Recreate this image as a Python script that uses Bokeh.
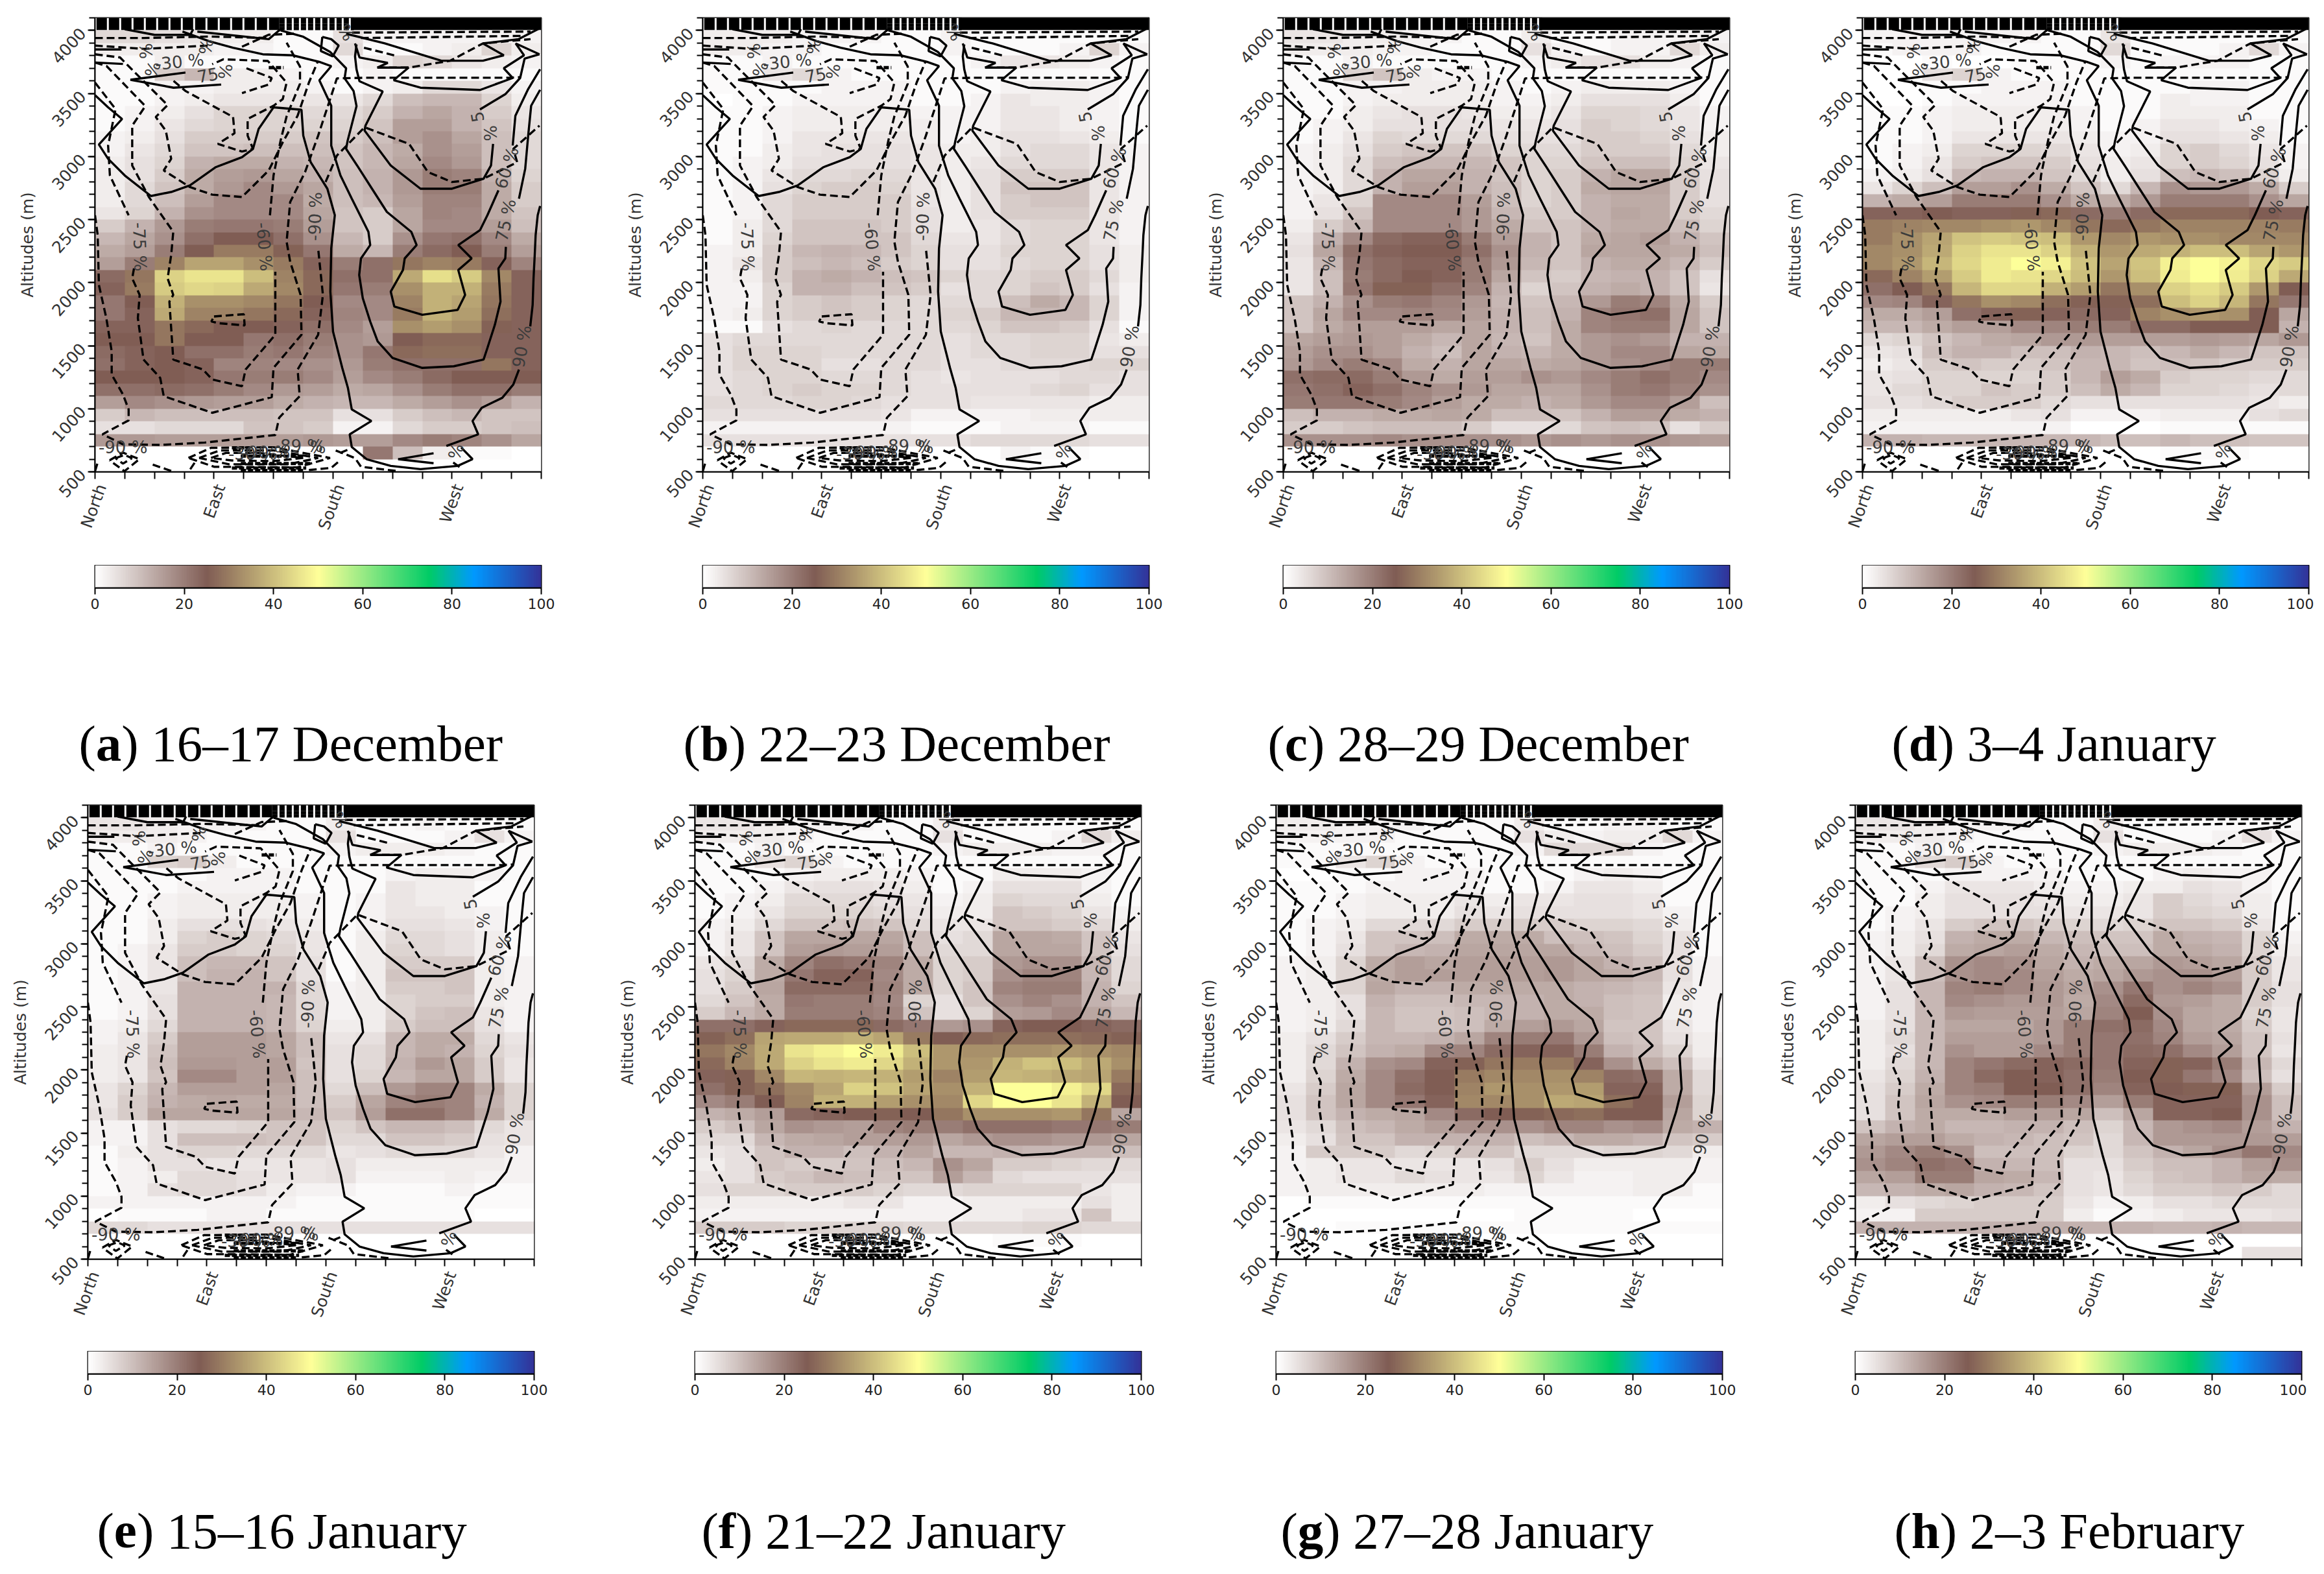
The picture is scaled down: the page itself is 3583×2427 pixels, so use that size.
import numpy as np
from bokeh.embed import file_html
from bokeh.resources import INLINE
from bokeh.plotting import figure
from bokeh.layouts import column, row
from bokeh.models import ColumnDataSource, FixedTicker, LinearAxis, LinearColorMapper, Range1d, SingleIntervalTicker
from bokeh.core.properties import value

DIRECTIONS = {0: "North", 4: "East", 8: "South", 12: "West"}
ONE = [1] * 15
ZERO = [0] * 15

# cloud frequency (%) per row, from 4000-4100 m down to 500-600 m, 15 azimuth columns
PANEL_A = [ONE,
 [6,6,5,4,3,3,1,1,5,2,2,2,2,2,2],[3,3,3,3,2,2,1,1,6,1,1,2,3,7,3],[1,1,3,1,1,1,1,1,2,3,7,6,4,3,2],
 [1,1,8,11,3,3,2,1,1,2,1,1,1,1,1],[1,1,2,2,3,3,3,2,1,2,3,6,6,4,2],[1,1,2,3,4,4,4,4,4,6,10,11,11,7,3],
 [1,2,3,5,7,7,7,6,6,8,12,14,12,8,4],[1,2,4,6,7,7,7,7,7,9,15,15,12,9,5],[2,3,5,8,8,8,8,9,8,10,15,17,14,10,6],
 [2,4,6,9,9,10,10,10,9,11,13,17,15,10,6],[3,5,7,12,13,13,12,11,9,11,14,18,16,10,6],[3,5,8,13,15,16,14,12,10,12,16,20,19,12,7],
 [3,6,9,13,16,18,16,14,10,12,16,20,20,13,8],[3,6,10,15,18,18,18,13,10,11,15,19,19,13,8],[4,7,12,17,18,18,18,14,9,8,14,19,18,13,9],
 [8,12,16,20,21,21,20,15,9,8,14,18,18,15,10],[11,14,17,22,25,25,22,17,11,8,17,21,22,18,13],[13,15,20,25,30,30,26,21,13,11,20,23,25,20,15],
 [15,20,31,36,36,33,30,24,20,22,29,31,30,24,19],[23,29,43,46,46,40,31,27,22,22,37,45,42,32,24],[24,30,42,44,43,37,32,27,21,20,33,38,38,30,24],
 [21,25,38,33,33,32,29,25,18,18,31,38,36,29,24],[21,24,37,31,31,29,27,24,19,18,30,38,35,28,24],[24,24,29,27,25,25,24,22,18,15,33,35,33,26,24],
 [25,25,29,25,25,21,22,20,17,16,25,27,27,24,24],[23,24,25,22,22,20,21,19,17,21,27,28,28,24,24],[22,24,25,24,19,19,18,17,16,20,22,22,22,29,24],
 [25,25,25,24,21,20,20,18,15,18,20,23,25,25,25],[22,22,23,22,20,18,16,15,13,14,17,20,22,22,20],[15,18,17,16,15,15,13,12,11,11,13,15,17,15,12],
 [8,11,10,10,10,10,9,9,5,5,8,10,11,9,9],[5,5,6,6,6,9,9,8,2,2,6,8,8,9,10],[16,16,15,15,15,15,15,16,15,15,18,20,19,17,14],
 [0,0,0,0,0,0,0,0,0,21,10,3,1,1,0],ZERO]

PANEL_B = [ONE,
 [3,3,3,2,2,2,1,1,2,1,1,1,1,1,1],[3,3,2,2,1,1,1,1,2,1,1,1,2,7,2],[1,1,2,1,1,1,1,1,1,2,4,4,3,2,1],
 [1,1,4,6,2,1,1,1,1,1,1,1,1,1,1],[1,1,1,1,2,2,2,1,1,1,2,3,3,2,1],[0,1,1,2,2,2,2,1,1,2,4,3,3,2,1],
 [1,1,2,3,3,3,3,2,2,2,4,4,3,2,1],[1,1,2,3,3,3,3,3,2,2,4,4,3,2,1],[1,1,2,4,4,4,4,3,2,3,5,5,4,3,1],
 [1,1,3,4,5,5,5,4,3,3,5,6,6,4,2],[1,2,3,5,5,5,5,4,3,4,6,6,6,4,2],[1,2,4,6,6,7,6,4,3,5,8,8,8,4,2],
 [1,2,5,7,8,8,7,4,3,5,9,9,9,4,2],[1,2,6,8,8,8,8,4,3,5,8,9,9,4,2],[1,2,6,8,8,8,8,5,3,5,8,8,8,4,2],
 [1,3,6,9,9,9,8,5,3,4,6,7,7,4,2],[1,3,7,9,9,9,9,6,4,4,6,7,7,4,2],[2,3,8,11,12,11,9,7,5,5,7,7,7,5,3],
 [2,4,8,10,11,10,8,7,5,5,6,7,7,5,3],[2,3,8,12,13,12,10,9,7,6,7,8,8,6,3],[2,2,7,12,12,10,9,8,5,6,7,9,8,5,2],
 [2,2,7,8,9,8,7,6,6,6,10,13,11,7,2],[2,3,7,8,9,8,7,6,7,8,11,11,11,7,2],[1,1,5,6,7,6,6,6,6,7,9,9,8,5,1],
 [5,6,6,6,6,6,6,6,5,6,6,7,7,4,3],[5,7,7,7,6,6,6,6,5,6,6,7,7,5,5],[5,7,7,7,5,5,6,6,5,5,6,6,6,7,7],
 [5,6,7,7,6,6,6,5,4,5,5,5,6,6,5],[5,6,7,8,7,7,6,5,5,5,5,6,7,5,5],[6,6,6,7,7,6,5,5,5,4,4,4,4,3,3],
 [5,5,5,5,5,5,4,2,2,2,2,3,3,3,3],[2,2,2,2,2,2,2,1,1,1,2,2,2,1,1],[5,5,5,5,5,5,5,5,5,6,6,6,6,5,5],
 [0,0,0,0,0,0,0,0,0,0,2,1,1,0,0],ZERO]

PANEL_C = [ONE,
 [4,4,3,3,2,2,1,1,3,1,1,2,2,2,2],[3,3,3,2,2,1,1,1,5,2,1,2,2,6,3],[1,1,2,1,1,1,1,1,2,3,5,5,3,2,1],
 [1,1,7,9,3,2,2,1,1,1,1,1,1,1,1],[1,1,2,2,3,3,3,2,1,2,3,3,3,2,1],[1,1,2,3,3,3,3,2,2,3,5,5,5,3,1],
 [1,1,3,4,5,5,4,3,3,4,7,7,6,4,2],[1,2,3,5,5,5,5,4,4,5,8,7,6,4,2],[1,2,4,7,6,6,6,5,5,5,8,8,7,5,3],
 [2,3,5,8,9,9,9,7,6,6,8,8,8,6,3],[2,3,6,10,11,11,11,9,7,7,9,10,10,7,4],[2,3,6,12,14,14,12,9,7,8,12,14,14,8,5],
 [2,3,6,12,15,15,12,10,7,8,13,14,14,8,5],[2,4,7,18,18,18,15,10,7,8,12,13,13,8,5],[2,5,9,18,18,18,16,11,8,8,12,14,13,8,6],
 [3,8,11,18,18,18,16,13,9,9,12,13,13,10,7],[4,12,18,23,24,24,20,15,12,9,13,14,15,12,9],[5,14,22,24,25,25,22,17,12,9,14,14,14,13,10],
 [4,11,21,23,24,24,20,16,11,9,12,13,13,11,8],[4,10,20,23,25,24,20,14,9,8,11,12,12,9,5],[4,10,21,26,26,22,19,12,7,9,12,13,12,9,4],
 [9,12,17,20,21,19,16,11,9,11,16,20,19,13,8],[9,14,18,18,19,18,15,12,10,12,19,21,22,14,9],[9,13,15,15,15,14,14,12,10,13,19,20,20,14,9],
 [14,15,16,15,13,11,14,11,9,13,16,17,16,12,12],[15,17,17,15,12,10,14,12,11,13,16,18,18,14,13],[16,18,20,18,13,12,14,14,13,14,16,17,18,20,20],
 [22,23,23,20,16,13,15,15,17,16,18,20,22,20,18],[21,22,24,22,19,17,16,14,14,14,17,20,21,19,17],[20,21,21,20,18,15,13,13,12,13,16,18,18,15,10],
 [10,12,12,13,13,14,13,10,10,9,12,15,15,13,12],[8,8,9,10,10,10,8,5,5,6,9,10,9,5,8],[17,17,17,18,17,17,17,17,16,17,16,17,17,16,15],
 ZERO,ZERO]

PANEL_D = [ONE,
 [2,2,2,2,2,2,1,1,4,1,1,1,1,1,1],[1,2,2,2,1,1,1,1,6,1,1,1,2,6,2],[0,0,1,0,0,1,1,1,2,1,2,2,2,1,1],
 [0,0,5,7,2,1,1,1,1,1,1,1,1,1,1],[0,0,1,1,2,2,2,1,1,1,1,2,2,1,1],[0,0,1,2,2,2,2,1,1,1,3,2,2,1,1],
 [1,1,2,3,3,3,3,2,1,1,3,3,3,1,1],[1,1,2,3,3,3,3,2,1,2,4,4,3,2,1],[1,1,2,4,4,4,4,3,2,2,5,5,4,3,1],
 [1,2,3,7,7,7,6,4,2,3,7,8,6,4,2],[1,2,4,8,9,9,8,5,3,4,7,8,7,5,2],[2,3,5,11,12,12,9,6,3,5,10,11,10,7,3],
 [4,7,10,15,15,17,13,9,6,11,17,16,16,13,8],[12,13,15,20,20,20,17,13,13,16,20,20,20,17,14],[24,24,25,24,24,26,27,23,20,23,27,27,27,25,24],
 [30,31,32,32,33,34,32,29,27,29,31,31,31,31,30],[30,33,36,41,42,41,40,34,32,34,33,33,32,32,32],[32,33,37,43,46,46,43,38,34,37,38,40,40,36,34],
 [32,34,39,44,47,50,48,41,36,41,48,50,48,44,42],[27,31,35,42,47,46,44,40,34,40,47,50,47,43,37],[22,25,29,39,44,44,38,35,29,33,43,45,42,34,25],
 [18,19,24,29,33,32,28,26,26,28,40,43,39,29,21],[13,13,15,22,24,26,24,23,24,31,33,34,33,25,14],[11,11,13,15,15,18,19,20,20,23,23,25,25,25,12],
 [6,7,9,11,13,14,16,16,15,15,15,16,15,14,16],[4,5,10,12,12,10,10,12,11,10,11,13,11,9,9],[3,4,8,9,8,8,9,11,11,9,10,9,8,8,8],
 [4,5,7,7,7,7,8,11,15,13,8,7,7,6,6],[4,6,7,7,9,8,8,10,13,11,7,7,6,5,6],[5,5,6,8,8,8,6,5,5,5,5,5,5,4,3],
 [3,3,3,3,3,4,5,2,2,2,3,3,3,5,6],[2,2,2,2,2,2,2,0,0,0,1,1,1,1,1],[12,12,11,11,11,11,11,11,10,10,11,10,10,9,9],
 [0,0,0,0,0,0,0,0,0,0,1,1,1,0,0],ZERO]

PANEL_E = [ONE,
 [4,4,3,2,2,2,1,1,3,1,1,2,1,1,1],[3,3,3,2,1,1,1,1,5,1,1,1,2,5,2],[1,1,2,1,1,1,1,1,2,3,3,3,2,1,1],
 [1,1,7,8,3,1,1,1,1,1,1,1,1,1,1],[1,1,1,1,2,2,2,1,1,1,2,3,3,2,1],[1,1,1,2,2,2,2,1,1,1,4,3,3,1,1],
 [1,1,2,3,3,3,3,2,1,2,4,3,3,1,1],[1,1,2,3,3,3,3,2,1,2,4,4,3,2,1],[1,1,3,5,5,5,4,3,1,2,5,5,4,2,1],
 [1,1,3,7,8,7,6,4,1,3,6,6,5,3,1],[1,2,4,8,8,7,7,4,1,3,7,6,5,3,1],[1,2,4,10,11,11,9,5,1,3,8,8,8,3,2],
 [1,2,4,10,12,12,9,5,1,3,9,9,9,3,2],[1,2,4,12,12,12,12,6,2,3,8,8,9,3,2],[1,2,5,12,12,12,11,6,2,3,7,8,8,3,2],
 [1,2,5,12,12,12,11,6,2,3,7,9,10,4,2],[2,3,6,12,12,12,11,7,3,3,8,10,10,5,2],[2,4,8,15,15,15,14,10,4,5,11,13,13,6,4],
 [3,4,9,15,15,15,14,10,5,6,11,13,12,7,5],[3,4,10,16,16,15,15,9,5,6,12,16,14,8,4],[3,4,9,18,18,15,15,10,5,7,11,14,14,8,4],
 [4,7,11,15,15,15,14,10,6,10,16,19,19,13,7],[4,8,12,13,14,13,13,10,8,14,19,20,19,12,7],[5,8,14,14,14,14,14,11,9,15,22,22,19,13,7],
 [2,2,5,6,6,7,9,9,7,9,11,11,10,6,4],[2,2,5,10,10,10,9,9,6,6,9,9,8,5,4],[1,3,5,7,7,6,6,6,4,5,6,6,6,4,2],
 [1,2,5,5,4,4,4,4,5,3,3,3,3,3,2],[1,2,3,6,6,5,4,4,5,2,2,2,3,2,2],[1,2,5,6,6,5,3,2,2,1,1,1,2,1,1],
 [2,2,2,2,2,2,2,1,1,1,1,1,1,1,1],[0,1,1,1,2,2,1,1,1,1,1,1,1,0,0],[6,6,5,5,5,5,5,5,5,5,5,5,5,5,5],
 ZERO,ZERO]

PANEL_F = [ONE,
 [4,4,3,2,2,2,1,1,3,1,1,1,1,1,1],[3,3,3,2,1,1,1,1,5,1,1,1,2,6,3],[1,1,2,1,1,1,1,1,2,3,3,3,2,2,1],
 [1,1,5,7,2,1,1,1,1,1,1,1,1,1,1],[1,1,1,2,3,3,3,2,1,1,3,3,3,2,1],[1,1,2,4,5,5,4,3,1,2,5,5,5,2,1],
 [1,2,3,6,6,6,5,4,2,3,7,6,6,3,1],[1,2,4,7,7,7,6,5,3,3,9,8,7,4,2],[2,3,6,9,9,10,9,6,4,4,9,9,8,6,3],
 [2,4,9,14,14,14,14,10,5,6,14,14,13,9,4],[2,4,9,15,16,15,15,10,6,6,14,14,14,9,5],[4,6,13,19,22,21,19,13,7,8,16,17,17,11,6],
 [5,7,13,21,24,24,18,13,7,8,17,19,19,11,6],[5,8,14,23,23,23,19,13,7,9,19,20,20,12,7],[6,9,13,21,20,20,18,7,5,9,17,19,17,12,9],
 [8,11,13,20,20,20,19,9,5,7,15,16,18,14,11],[22,22,24,27,27,27,23,21,16,17,24,25,25,24,23],[26,28,36,37,37,38,36,30,25,27,28,28,28,27,26],
 [29,32,37,46,48,50,47,40,34,33,33,33,34,33,32],[27,31,37,43,46,47,44,38,34,34,38,41,40,37,33],[24,26,32,39,38,39,38,35,31,35,39,38,37,36,30],
 [22,26,28,32,36,43,41,36,33,38,50,50,48,44,27],[18,20,25,31,38,38,35,33,32,44,50,50,46,38,25],[12,13,15,23,24,25,26,25,29,33,33,33,34,29,14],
 [8,10,14,17,16,15,19,20,20,22,22,22,21,21,20],[6,6,11,13,14,15,15,16,14,16,17,17,16,16,14],[4,5,9,12,12,10,12,14,11,11,12,11,11,11,10],
 [3,5,9,8,8,9,10,11,17,14,8,8,7,6,6],[4,5,8,9,11,10,9,9,15,11,6,5,5,5,5],[5,7,7,8,8,8,7,6,6,7,7,7,7,4,3],
 [3,3,3,3,3,4,4,2,2,3,3,3,3,5,3],[2,2,2,2,2,2,2,2,2,3,3,4,4,9,3],[8,8,8,7,7,7,7,6,6,6,6,7,7,6,6],
 [0,0,0,0,0,0,0,0,0,0,1,1,1,0,0],ZERO]

PANEL_G = [ONE,
 [3,3,2,2,2,1,1,1,3,1,1,2,2,1,1],[2,2,2,2,1,1,1,1,5,3,2,3,3,6,2],[1,1,1,1,1,1,1,1,2,6,6,6,2,1,1],
 [1,1,4,7,2,1,1,1,1,1,1,1,1,1,1],[0,0,1,1,2,2,2,1,1,1,2,3,2,1,1],[1,1,1,2,2,2,2,1,1,2,4,4,3,1,1],
 [1,1,2,3,3,3,4,3,4,4,5,5,4,1,1],[1,1,2,3,3,3,5,4,5,5,5,5,4,2,1],[1,2,3,6,6,6,8,8,8,8,7,7,6,3,1],
 [1,2,4,9,9,10,13,13,13,10,10,9,7,5,1],[1,2,5,9,11,12,14,14,14,14,11,10,8,5,1],[2,3,7,13,15,14,15,15,15,16,14,12,10,5,2],
 [2,3,7,13,15,15,15,15,15,16,14,13,11,5,2],[2,3,7,14,12,12,13,13,13,13,12,11,10,4,2],[2,3,5,12,10,10,11,11,12,13,12,10,9,3,2],
 [2,3,5,11,9,9,10,11,12,13,13,10,9,3,2],[2,3,6,11,9,9,10,13,15,16,14,9,9,4,2],[3,5,8,11,11,12,14,19,20,21,16,10,9,5,3],
 [3,6,9,12,13,18,19,23,24,24,20,12,10,7,3],[3,6,12,17,18,24,26,29,30,30,24,17,13,10,4],[3,7,13,18,22,25,30,32,32,33,31,23,22,13,6],
 [4,8,14,18,23,25,31,34,33,34,35,24,24,13,6],[5,9,14,18,21,24,32,32,33,37,36,28,25,15,7],[5,9,12,13,14,18,23,25,26,27,28,25,25,14,7],
 [4,6,10,11,13,15,17,17,17,19,19,17,18,13,12],[3,5,9,9,12,12,12,12,10,11,13,13,12,9,8],[2,8,8,8,6,7,9,9,6,6,6,7,7,6,3],
 [2,3,4,4,4,4,4,5,8,5,3,3,3,3,2],[2,3,4,4,6,5,4,4,7,4,2,2,3,3,2],[2,3,3,3,3,3,3,2,2,2,2,2,3,3,1],
 [0,1,1,1,1,1,1,1,1,1,1,1,1,1,1],[0,0,0,0,0,0,0,0,1,1,1,1,0,0,0],[0,0,1,1,1,1,1,1,1,1,1,1,1,1,1],
 ZERO,ZERO]

PANEL_H = [ONE,
 [4,4,3,2,2,2,1,1,3,1,1,1,1,1,1],[3,3,3,2,1,1,1,1,5,1,1,1,2,5,2],[1,1,2,1,1,1,1,1,2,3,3,3,2,1,1],
 [1,1,6,8,2,1,1,1,1,1,1,1,1,1,1],[1,1,1,2,2,2,2,1,1,1,2,3,2,2,1],[1,1,2,4,4,4,3,2,2,3,3,5,4,2,1],
 [1,1,3,5,5,5,4,3,3,4,8,6,5,3,1],[1,2,3,5,5,5,5,4,4,4,8,7,6,3,1],[1,2,4,8,9,9,8,7,6,7,9,9,8,4,1],
 [2,3,5,12,13,13,11,10,9,9,13,12,11,7,2],[2,3,6,13,14,15,13,11,10,10,13,13,12,7,3],[2,4,10,17,18,17,14,12,13,14,16,15,14,8,4],
 [2,4,10,17,18,18,15,13,14,16,17,17,15,8,4],[2,5,11,19,20,18,16,14,17,21,17,19,17,8,5],[2,5,11,18,17,16,16,13,18,23,16,15,13,8,5],
 [2,5,11,16,15,15,15,14,19,25,17,14,13,7,4],[3,5,11,14,14,14,16,20,22,23,18,14,13,8,4],[3,6,11,15,15,15,16,20,21,22,19,15,14,9,5],
 [3,5,11,17,15,15,18,20,21,23,22,18,15,9,4],[3,6,11,19,21,23,24,23,21,24,26,24,20,11,6],[4,7,12,19,23,25,24,22,20,25,26,21,18,10,5],
 [5,8,13,19,20,25,25,22,19,24,25,26,26,15,8],[5,9,14,17,18,20,20,18,15,20,24,24,24,17,10],[5,9,13,13,13,15,15,14,10,14,24,24,25,17,10],
 [9,12,13,11,11,12,12,10,7,11,16,17,18,15,12],[14,15,15,13,12,11,10,9,6,11,16,16,16,16,15],[16,18,20,17,10,10,10,7,6,9,12,14,17,21,18],
 [17,19,22,21,12,11,10,5,5,8,10,10,12,15,17],[14,15,20,20,14,13,11,5,4,7,9,10,12,14,13],[11,12,13,14,12,11,9,5,4,6,8,8,9,8,6],
 [3,5,6,7,8,8,8,4,2,3,5,5,6,6,6],[2,2,8,8,8,8,8,3,1,2,3,4,4,4,5],[12,12,12,12,12,12,12,12,12,12,11,11,12,11,11],
 ZERO,[0,0,0,0,0,0,0,0,0,0,0,0,0,5,5]]

PANELS = [PANEL_A, PANEL_B, PANEL_C, PANEL_D, PANEL_E, PANEL_F, PANEL_G, PANEL_H]
LETTERS = ["a", "b", "c", "d", "e", "f", "g", "h"]
CAPTIONS = ["16–17 December", "22–23 December", "28–29 December", "3–4 January",
            "15–16 January", "21–22 January", "27–28 January", "2–3 February"]

# terrain_r colour stops
STOPS = [(0, (255, 255, 255)), (25, (128, 92, 84)), (50, (255, 255, 153)),
         (75, (0, 204, 102)), (85, (0, 153, 255)), (100, (51, 51, 153))]

# contours shared by all panels: (azimuth column, altitude m)
SOLID = [
 [(14.96,2608),(14.88,2535),(14.81,2376),(14.78,2219),(14.74,2034),(14.71,1824),(14.63,1653)],
 [(14.25,1311),(14.06,1192),(13.69,1087),(13.0,1008),(12.69,903),(12.88,797),(11.81,705)],
 [(12.31,692),(12.69,600),(12.19,547),(10.94,521),(9.94,547),(9.13,600),(8.63,697),(8.56,797),(9.29,903),(8.63,995),(8.5,1166),(8.31,1324),(8.0,1613),(7.91,1929),(7.94,2271),(8.06,2535),(7.81,2745),(7.25,2955),(7.0,3166),(6.94,3371),(6.0,3390),(5.5,3219),(5.31,3061),(4.94,2995),(4.06,2916),(3.19,2771),(2.56,2719),(1.88,2687),(1.0,2850),(0.44,2982),(0.13,3095),(0.91,3298),(0.44,3390),(0,3487)],
 [(11.38,647),(10.19,600),(11.38,568)],
 [(13.81,2284),(13.79,2192),(13.56,2113),(13.63,1850),(13.44,1666),(13.19,1482),(13.06,1390),(12.06,1337),(11.0,1324),(10.0,1403),(9.5,1534),(9.25,1692),(9.0,1877),(8.88,2061),(8.94,2192),(9.25,2298),(9.19,2403),(8.63,2666),(8.25,2850),(7.94,3087),(7.94,3403),(7.54,3605),(7.94,3717),(7.54,3751),(6.64,3803),(5.64,3811),(4.64,3863),(3.84,3914),(2.94,3991)],
 [(14.25,2666),(14.46,2903),(14.56,3166),(14.66,3403),(14.96,3529)],
 [(13.56,2732),(13.19,2535),(12.94,2416),(12.21,2298),(12.66,2192),(12.21,2100),(12.44,1903),(12.19,1784),(11.0,1745),(10.06,1811),(9.94,1929),(10.35,2100),(10.41,2192),(10.81,2298),(10.63,2403),(9.81,2561),(9.31,2745),(8.81,2929),(8.44,3061),(8.49,3125),(8.79,3400),(8.69,3520),(8.39,3620),(8.44,3700),(7.9,3830),(7.0,3950),(6.24,4000)],
 [(14.04,3087),(14.13,3324),(14.56,3535),(14.96,3692)],
 [(8.79,3889),(8.74,3794),(8.79,3691),(8.89,3597),(9.67,3516),(9.09,3245),(9.06,3206),(9.94,2929),(10.94,2745),(12.0,2745),(13.06,2824),(13.31,2929),(13.38,3100)],
 [(12.94,3374),(13.79,3494),(14.29,3623),(14.44,3777),(14.94,3811)],
 [(9.49,3705),(10.54,3705),(10.04,3606),(10.94,3546),(12.94,3528),(14.04,3623),(13.74,3700),(14.42,3803),(14.14,3897),(14.94,3811)],
 [(8.74,3897),(8.89,3786),(9.84,3743),(9.49,3705)],
 [(8.44,3974),(9.74,3897),(11.64,3760),(13.04,3760),(13.74,3803),(13.04,3897),(14.24,3931),(14.94,4017)],
 [(3.44,3991),(5.84,3931),(6.14,3991),(6.3,4020)],
 [(0,3849),(0.89,3849)],
 [(0,3746),(0.94,3734)],
 [(3.04,3666),(1.19,3609),(2.64,3546),(4.24,3571)],
 [(7.64,3949),(7.59,3837),(7.99,3794),(8.19,3880),(7.94,3931),(7.64,3949)],
 [(1.0,4010),(2.0,3965),(3.2,3965),(3.3,4010)],
]
DASHED = [
 [(0,2534),(0.09,2376),(0.13,1982),(0.38,1719),(0.56,1455),(0.56,1271),(0.94,1113),(1.13,995),(1.13,908),(0.25,797),(0.94,718),(2.19,713),(3.69,732),(6.06,792),(6.19,929),(6.88,1100),(6.81,1311),(7.5,1587),(7.66,1903),(7.5,2271)],
 [(7.75,2798),(8.13,3008),(9.06,3232),(10.56,3100),(11.19,2877),(12.0,2798),(13.06,2824),(14.19,2955),(14.06,3061),(14.94,3245)],
 [(0,3587),(0.69,3377),(0.44,3087),(0.5,2850),(1.13,2534)],
 [(1.31,2113),(1.25,2034),(1.5,1903),(1.44,1719),(1.63,1390),(2.19,1245),(2.31,1100),(3.94,968),(5.94,1092),(6.0,1324),(6.94,1587),(6.91,1903),(6.56,2166),(6.44,2324),(6.56,2640),(7.06,2877),(7.5,3166),(7.94,3482),(8.13,3620),(9.06,3625),(13.94,3625),(14.31,3630)],
 [(0,3746),(0.39,3717),(1.69,3400),(1.25,3245),(1.25,2929),(1.81,2679),(2.63,2403),(2.56,2219),(2.44,2034),(2.63,1903),(2.5,1850),(2.63,1390),(3.63,1311),(3.94,1232),(4.94,1179),(5.06,1311),(6.06,1587),(6.06,2087)],
 [(5.88,2534),(6.0,2850),(6.24,3129),(6.44,3319),(6.89,3577),(6.89,3714),(6.44,3903)],
 [(0,3811),(0.84,3786),(1.2,3700),(2.44,3408),(2.04,3314),(2.38,3205),(2.56,2982),(2.31,2890),(3.19,2758),(3.94,2698),(4.94,2679),(5.84,2890),(6.31,3113),(6.81,3324),(7.19,3587),(7.5,3760)],
 [(2.64,3600),(3.04,3520),(4.64,3314),(4.69,3185),(4.13,3100),(4.94,3040),(5.31,3061),(5.13,3166),(5.13,3298),(6.0,3403),(6.31,3455),(6.44,3587),(5.81,3758),(4.31,3771),(3.94,3732)],
 [(5.09,3700),(5.94,3623),(5.84,3571),(4.94,3503)],
 [(4.0,1732),(5.0,1750),(5.03,1661),(4.13,1679),(3.91,1692),(4.0,1732)],
 [(0,3940),(1.64,3940),(3.84,3952),(5.84,3940)],
 [(0,3880),(1.64,3854),(3.84,3880)],
 [(4.94,3871),(5.84,3966),(6.8,3975)],
 [(8.64,3983),(14.64,3991)],
 [(8.94,3940),(14.44,3957)],
 [(9.04,3863),(10.1,3800)],
 [(9.49,3705),(10.54,3705),(11.94,3760),(13.04,3897),(14.64,3931)],
 # lower cluster
 [(3.14,610),(3.9,690),(6.0,695),(7.9,610),(6.8,535),(4.0,540),(3.14,610)],
 [(3.5,610),(4.2,670),(6.0,670),(7.5,610),(6.5,560),(4.5,560),(3.5,610)],
 [(3.9,610),(4.4,650),(5.5,650),(7.0,610),(6.0,585),(4.6,590),(3.9,610)],
 [(0.49,591),(0.94,652),(1.49,600),(0.99,505),(0.49,591)],
 [(0.69,608),(0.99,634),(1.24,608),(0.94,565),(0.69,608)],
 [(0,505),(0.09,574)],
 [(1.94,557),(2.59,505)],
 [(3.2,520),(3.4,590)],
 [(8.09,669),(8.74,609),(8.94,540),(10.19,505)],
 [(8.24,650),(8.55,680)],
 [(7.19,514),(7.94,531),(8.24,591)],
 [(12.04,574),(12.34,522)],
]
BLOCK_SOLID = [[(8.6,4052),(15,4052)]]
BLOCK_DASHED = [[(0.05,4052),(6.25,4052)]]
FINE_DASHED = [[(6.2,4090),(8.7,4090)],[(6.2,4065),(8.7,4065)],[(6.2,4040),(8.7,4040)],[(6.2,4015),(8.7,4015)],
               [(4.6,690),(5.2,690)],[(4.9,625),(7.0,625)],[(4.9,565),(7.3,565)],[(4.6,530),(7.1,530)],[(4.9,510),(7.0,510)],
               [(5.84,3705),(6.34,3705)]]
LABELS = [("-30 %",2.84,3751,6),("75",3.79,3648,10),("%",4.39,3674,80),("%",1.94,3691,70),("%",1.74,3837,90),
          ("%",3.74,3871,80),("%",8.44,3983,-60),("5",12.84,3314,100),("%",13.32,3185,90),("-90 %",0.94,695,0),
          ("%",12.14,660,70),("-90 %",5.74,652,0),("-89 %",6.84,703,0),("%",7.49,695,0),("-30 %",5.3,640,0),
          ("-75 %",1.5,2284,-88),("-60 %",5.69,2284,-85),("-90 %",7.4,2525,88),("60 %",13.84,2911,72),
          ("75 %",13.81,2495,78),("90 %",14.35,1495,80)]

# frame left edges on the page, rows one and two, and caption left edges
FRAME_X = [[146, 1081, 1974, 2865], [135, 1069, 1963, 2854]]
CAP_X = [[121, 1053, 1954, 2916], [149, 1081, 1974, 2920]]
BOLD_W = {"a": .5, "b": .556, "c": .444, "d": .556, "e": .444, "f": .333, "g": .5, "h": .556}
FW, FH = 688, 700
LEFT = 120
CAP_SIZE = 79
PAGE_W = 3570
LABEL_SHIFT = 10 * 15 / FW  # direction names sit centred under their ticks


def make_palette():
    out = []
    for v in np.linspace(0, 100, 256):
        for (a, ca), (b, cb) in zip(STOPS, STOPS[1:]):
            if a <= v <= b:
                t = (v - a) / (b - a)
                out.append("#%02x%02x%02x" % tuple(int(round(ca[i] + t * (cb[i] - ca[i]))) for i in range(3)))
                break
    return out


PALETTE = make_palette()
MAPPER = LinearColorMapper(palette=PALETTE, low=0, high=100)


def lines(p, data, **kw):
    src = ColumnDataSource(dict(xs=[[q[0] for q in l] for l in data], ys=[[q[1] for q in l] for l in data]))
    p.multi_line("xs", "ys", source=src, line_color="black", **kw)


def panel(values, bl, br, bt, bb):
    p = figure(frame_width=FW, frame_height=FH, output_backend="svg", toolbar_location=None,
               x_range=Range1d(0, 15), y_range=Range1d(500, 4100),
               min_border_left=bl, min_border_right=br, min_border_top=bt, min_border_bottom=bb)
    p.image(image=[np.array(values, dtype=float)[::-1]], x=0, y=500, dw=15, dh=3600, color_mapper=MAPPER)
    lines(p, SOLID, line_width=3.4)
    lines(p, DASHED, line_width=3.4, line_dash="12 6")
    lines(p, BLOCK_SOLID, line_width=19)
    lines(p, BLOCK_DASHED, line_width=19, line_dash="16 3")
    lines(p, FINE_DASHED, line_width=5, line_dash="8 3")
    src = ColumnDataSource(dict(x=[l[1] for l in LABELS], y=[l[2] for l in LABELS], t=[l[0] for l in LABELS],
                                a=[np.radians(l[3]) for l in LABELS]))
    p.text("x", "y", text="t", angle="a", source=src, text_font=value("DejaVu Sans"), text_font_size="26px",
           text_color="#3c3c3c", text_align="center", text_baseline="middle")
    p.grid.visible = False
    p.outline_line_color = "black"
    p.outline_line_width = 2
    ax = p.xaxis[0]
    ax.ticker = FixedTicker(ticks=list(range(16)))
    ax.major_label_overrides = {i: "" for i in range(16)}
    ax.major_label_text_font_size = "1px"
    ax.major_label_standoff = 0
    ax.major_tick_out = 11
    ax.major_tick_in = 0
    ax.axis_line_width = 2
    ax.major_tick_line_width = 2
    p.extra_x_ranges = {"names": Range1d(-LABEL_SHIFT, 15 - LABEL_SHIFT)}
    names = LinearAxis(x_range_name="names", ticker=FixedTicker(ticks=list(DIRECTIONS)),
                       major_label_overrides=dict(DIRECTIONS), major_label_orientation=np.radians(70),
                       major_label_text_font_size="25px", major_label_text_font="DejaVu Sans",
                       major_label_text_color="#333333", major_label_standoff=3,
                       major_tick_line_color=None, minor_tick_line_color=None, axis_line_color=None)
    p.add_layout(names, "below")
    ay = p.yaxis[0]
    ay.ticker = SingleIntervalTicker(interval=500, num_minor_ticks=5)
    ay.major_label_orientation = np.radians(48)
    ay.major_label_text_font_size = "25px"
    ay.major_label_text_font = "DejaVu Sans"
    ay.major_label_text_color = "#333333"
    ay.major_label_standoff = 8
    ay.major_tick_out = 11
    ay.major_tick_in = 0
    ay.minor_tick_out = 9
    ay.minor_tick_in = 0
    ay.axis_line_width = 2
    ay.major_tick_line_width = 2
    ay.minor_tick_line_width = 2
    ay.axis_label = "Altitudes (m)"
    ay.axis_label_text_font = "DejaVu Sans"
    ay.axis_label_text_font_style = "normal"
    ay.axis_label_text_font_size = "25px"
    ay.axis_label_text_color = "#333333"
    ay.axis_label_standoff = 12
    return p


def colorbar(bl, br):
    p = figure(frame_width=FW, frame_height=35, output_backend="svg", toolbar_location=None,
               x_range=Range1d(0, 100), y_range=Range1d(0, 1),
               min_border_left=bl, min_border_right=br, min_border_top=0, min_border_bottom=40)
    p.image(image=[np.linspace(0, 100, 256).reshape(1, -1)], x=0, y=0, dw=100, dh=1, color_mapper=MAPPER)
    p.grid.visible = False
    p.yaxis.visible = False
    p.outline_line_color = "black"
    p.outline_line_width = 2
    ax = p.xaxis[0]
    ax.ticker = FixedTicker(ticks=[0, 20, 40, 60, 80, 100])
    ax.major_label_text_font_size = "22px"
    ax.major_label_text_font = "DejaVu Sans"
    ax.major_label_text_color = "#222222"
    ax.major_label_standoff = 6
    ax.major_tick_out = 10
    ax.major_tick_in = 0
    ax.axis_line_width = 2
    ax.major_tick_line_width = 2
    return p


def caption_strip(r, h, yc):
    # one wide strip per row; its x range runs in page pixels
    p = figure(width=PAGE_W, height=h, output_backend="svg", toolbar_location=None,
               x_range=Range1d(0, PAGE_W), y_range=Range1d(0, h), min_border=0)
    p.axis.visible = False
    p.grid.visible = False
    p.outline_line_color = None
    y = h - yc
    kw = dict(text_font=value("Liberation Serif"), text_font_size="%dpx" % CAP_SIZE, text_color="black",
              text_baseline="middle", text_align="left")
    for c in range(4):
        idx = r * 4 + c
        x0 = CAP_X[r][c]
        a0 = x0 + .333 * CAP_SIZE
        a1 = a0 + BOLD_W[LETTERS[idx]] * CAP_SIZE
        p.text([x0], [y], text=["("], **kw)
        p.text([a0], [y], text=[LETTERS[idx]], text_font_style="bold", **kw)
        p.text([a1], [y], text=[") " + CAPTIONS[idx]], **kw)
    return p


blocks = []
geometry = [(0, 27, 144, 276, 200), (1, 19, 142, 255, 202)]
for r, bt, bb, cap_h, cap_y in geometry:
    xs = FRAME_X[r]
    start = 0
    cols = []
    for c in range(4):
        idx = r * 4 + c
        bl = xs[c] - start
        next_start = xs[c + 1] - LEFT if c < 3 else xs[c] + FW + 10
        br = next_start - (xs[c] + FW)
        cols.append(column(panel(PANELS[idx], bl, br, bt, bb), colorbar(bl, br), spacing=0))
        start = next_start
    blocks.append(row(*cols, spacing=0))
    blocks.append(caption_strip(r, cap_h, cap_y))

page = column(*blocks, spacing=0)
open("out.html", "w").write(file_html(page, INLINE))
